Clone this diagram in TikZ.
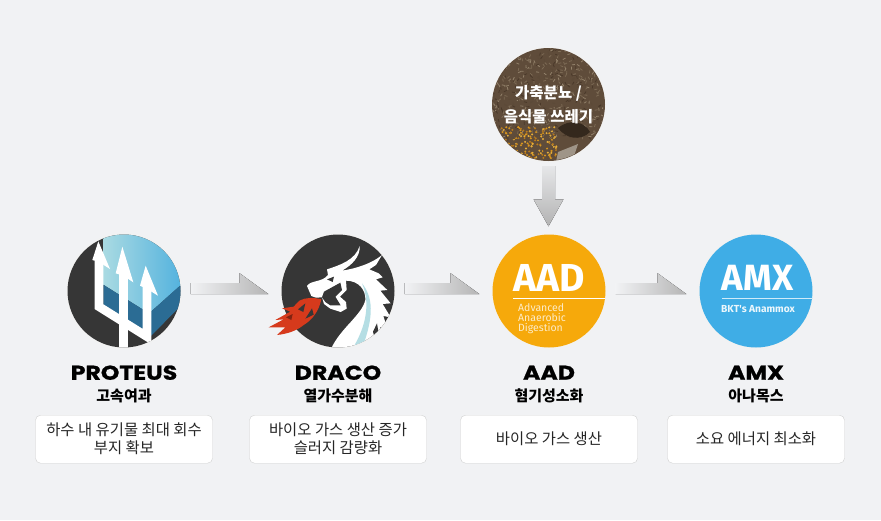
\documentclass[tikz,border=0pt]{standalone}
\usepackage{fontspec}
\setmainfont{Noto Sans CJK KR}
\newfontfamily\headfont{Poppins}[BoldFeatures={FakeStretch=1.18,FakeBold=1}]
\newfontfamily\logofont{Fira Sans}
\usetikzlibrary{calc}
\definecolor{pagebg}{HTML}{F1F2F4}
\definecolor{coal}{HTML}{363636}
\definecolor{icewater}{HTML}{A9DAE2}
\definecolor{skywater}{HTML}{4FB0DE}
\definecolor{deepwater}{HTML}{2B6C94}
\definecolor{neckblue}{HTML}{B5DEE4}
\definecolor{fire}{HTML}{D63A1C}
\definecolor{aadorange}{HTML}{F6A90B}
\definecolor{amxblue}{HTML}{3FADE6}
\definecolor{soilbase}{HTML}{5F4C3A}
\definecolor{soilA}{HTML}{4A392A}
\definecolor{soilB}{HTML}{7C6A54}
\definecolor{soilC}{HTML}{93826B}
\definecolor{soilD}{HTML}{5C4A38}
\definecolor{grainA}{HTML}{D8951E}
\definecolor{grainB}{HTML}{B87A1C}
\definecolor{grainC}{HTML}{E6AE3A}
\tikzset{
  disc/.style={circle,minimum size=113pt,inner sep=0pt},
  flow/.style={left color=pagebg,middle color=black!24,right color=black!29},
  flowdown/.style={top color=pagebg!90!gray,middle color=black!20,bottom color=black!30},
  title/.style={font=\headfont\bfseries\fontsize{20}{20}\selectfont,text=black},
  subtitle/.style={font=\bfseries\fontsize{15}{15}\selectfont,text=black},
  infobox/.style={draw=black!18,fill=white,rounded corners=5pt,minimum width=177pt,
    minimum height=48pt,inner sep=0pt,align=center,
    font=\fontsize{15.4}{18}\selectfont,text=black!85},
  feedtext/.style={align=center,text=white,font=\bfseries\fontsize{15.5}{24}\selectfont},
  logotext/.style={text=white,font=\logofont\bfseries\fontsize{39}{39}\selectfont,inner sep=0pt},
}
% half arrow from one disc to the next
\newcommand{\flowarrow}[2]{
  \fill[flow] let \p1=($(#1.east)+(10,3)$), \p2=($(#2.west)+(-13,3)$) in
    (\x1,\y1) -- (\x2,\y1) -- (\x2-29pt,\y1+21pt) -- (\x2-29pt,\y1+11pt) -- (\x1,\y1+11pt) -- cycle;
}
\begin{document}
\begin{tikzpicture}[x=1pt,y=-1pt]
  \fill[pagebg] (0,0) rectangle (881,520);
  \useasboundingbox (0,0) rectangle (881,520);

  % soft rims, then the discs
  \foreach \cx/\cy in {124/291,338/291,549/291,756/291,548.5/104.5}
    \fill[black!5] (\cx,\cy) circle (58);
  \node[disc,fill=coal] (proteus) at (124,291) {};
  \node[disc,fill=coal] (draco) at (338,291) {};
  \node[disc,fill=aadorange] (aad) at (549,291) {};
  \node[disc,fill=amxblue] (amx) at (756,291) {};
  \node[disc,fill=soilbase] (feed) at (548.5,104.5) {};

  % proteus icon, traced at three times the size
  \begin{scope}
    \clip (proteus.center) circle (56.5);
    \begin{scope}[shift={(64,234)},scale=1/3]
      \shade[left color=icewater,middle color=icewater,right color=skywater]
        (118,152) -- (255,238) -- (365,140) -- (365,0) -- (118,0) -- cycle;
      \fill[deepwater] (118,152) -- (255,238) -- (365,140) -- (365,200) -- (262,305) -- (118,212) -- cycle;
      \draw[white,line width=8.7pt] (105,80) -- (105,218) -- (249,308) -- (249,150);
      \draw[white,line width=8.5pt] (178,110) -- (178,350);
      \fill[white] (103,22) -- (138,105) -- (105,84) -- (85,78) -- cycle;
      \fill[white] (175,38) -- (208,145) -- (178,125) -- (155,118) -- cycle;
      \fill[white] (245,95) -- (282,185) -- (249,165) -- (228,155) -- cycle;
    \end{scope}
  \end{scope}

  % draco icon, traced at three times the size
  \begin{scope}
    \clip (draco.center) circle (56.5);
    \begin{scope}[shift={(262,240)},scale=1/3]
      \fill[white] (135,138) .. controls (145,120) and (180,128) .. (198,105)
        -- (195,88) .. controls (235,75) and (280,60) .. (293,18)
        .. controls (295,50) and (270,75) .. (240,92)
        .. controls (285,85) and (330,70) .. (360,45)
        -- (342,75) -- (322,88) -- (350,100) -- (362,112) -- (342,118)
        -- (376,150) -- (355,152) -- (386,190) -- (362,192) -- (386,232)
        -- (364,228) -- (376,266) -- (354,262) -- (352,284) -- (345,325) -- (208,325)
        .. controls (235,265) and (300,225) .. (310,180)
        .. controls (312,150) and (290,122) .. (252,122)
        -- (254,150) -- (234,170) -- (252,186) -- (254,206) -- (236,216)
        -- (205,206) -- (186,192) -- (180,172) -- (162,173) -- (148,168) -- cycle;
      \fill[coal] (180,172) -- (186,155) -- (235,128) -- (240,150) -- (220,170)
        -- (236,196) -- (205,196) -- (190,186) -- cycle;
      \fill[coal] (195,118) -- (216,110) -- (212,126) -- cycle;
      \fill[neckblue] (300,130) .. controls (332,170) and (338,225) .. (300,325)
        -- (272,325) .. controls (312,260) and (326,190) .. (300,130) -- cycle;
      \fill[coal] (345,250) -- (333,275) -- (340,302) -- (350,280) -- cycle;
    \end{scope}
  \end{scope}
  \begin{scope}[shift={(262,240)},scale=1/3]
    \fill[fire] (178,178) .. controls (155,172) and (130,172) .. (112,182)
      -- (95,200) -- (60,205) -- (85,215) -- (40,240) -- (65,238) -- (20,262)
      -- (70,262) -- (45,285) .. controls (75,282) and (105,272) .. (125,255)
      .. controls (150,240) and (170,215) .. cycle;
    \fill[coal] (108,208) -- (130,190) -- (124,216) -- cycle;
    \fill[coal] (130,236) -- (150,205) -- (155,224) -- cycle;
    \fill[fire!60!black] (72,232) -- (92,222) -- (88,240) -- cycle;
  \end{scope}

  % soil and food waste texture
  \pgfmathsetseed{42}
  \pgfmathdeclarerandomlist{soillist}{{soilA}{soilB}{soilC}{soilD}}
  \pgfmathdeclarerandomlist{grainlist}{{grainA}{grainB}{grainC}{soilD}}
  \begin{scope}
    \clip (feed.center) circle (56);
    \foreach \i in {1,...,650}{
      \pgfmathsetmacro{\px}{492+113*rnd}
      \pgfmathsetmacro{\py}{48+90*rnd}
      \pgfmathsetmacro{\pa}{360*rnd}
      \pgfmathrandomitem{\tone}{soillist}
      \draw[\tone,line width=.8pt] (\px,\py) -- ++(\pa:3);
    }
    \foreach \i in {1,...,240}{
      \pgfmathsetmacro{\px}{497+60*rnd}
      \pgfmathsetmacro{\py}{127+32*rnd}
      \pgfmathrandomitem{\tone}{grainlist}
      \fill[\tone] (\px,\py) circle (1.1);
    }
    \fill[soilA!70!black] (558,128) .. controls (570,118) and (585,122) .. (590,132)
      .. controls (580,142) and (565,138) .. cycle;
    \fill[black!20!soilC!70!white] (558,152) -- (578,144) -- (572,162) -- (556,162) -- cycle;
  \end{scope}
  \node[feedtext] (feedtext) at (feed.center) {가축분뇨 /\\음식물 쓰레기};

  % logo texts
  \node[logotext] (aadlogo) at (549,278) {AAD};
  \draw[white,line width=1pt] (513,298) -- (605,298);
  \node[anchor=north west,inner sep=0pt,align=left,text=aadorange!22!white,
    font=\logofont\fontsize{10.5}{10}\selectfont] (aadsub) at (518,303) {Advanced\\Anaerobic\\Digestion};
  \node[logotext,font=\logofont\bfseries\fontsize{36.5}{36.5}\selectfont] (amxlogo) at (757.5,278) {AMX};
  \draw[white!75!amxblue,line width=1pt] (722,298) -- (813,298);
  \node[anchor=center,inner sep=0pt,text=white!90!amxblue,
    font=\logofont\bfseries\fontsize{10.2}{10}\selectfont] (amxsub) at (758,309) {BKT's Anammox};

  % arrows
  \flowarrow{proteus}{draco}
  \flowarrow{draco}{aad}
  \flowarrow{aad}{amx}
  \fill[flowdown] let \p1=($(feed.south)+(0,5)$), \p2=($(aad.north)+(0,-8)$) in
    (\x1-6.5pt,\y1) -- (\x1+6.5pt,\y1) -- (\x1+6.5pt,\y2+27pt) -- (\x1+15pt,\y2+27pt)
    -- (\x1,\y2) -- (\x1-15pt,\y2+27pt) -- (\x1-6.5pt,\y2+27pt) -- cycle;

  % captions under the discs
  \foreach \name/\head/\kor/\body in {
      proteus/PROTEUS/고속여과/{하수 내 유기물 최대 회수\\부지 확보},
      draco/DRACO/열가수분해/{바이오 가스 생산 증가\\슬러지 감량화},
      aad/AAD/혐기성소화/{바이오 가스 생산},
      amx/AMX/아나목스/{소요 에너지 최소화}}{
    \node[title] (\name-title) at ($(\name.south)+(0,25)$) {\head};
    \node[subtitle] (\name-sub) at ($(\name.south)+(0,48)$) {\kor};
    \node[infobox] (\name-box) at ($(\name.south)+(0,91.5)$) {\body};
  }
\end{tikzpicture}
\end{document}
